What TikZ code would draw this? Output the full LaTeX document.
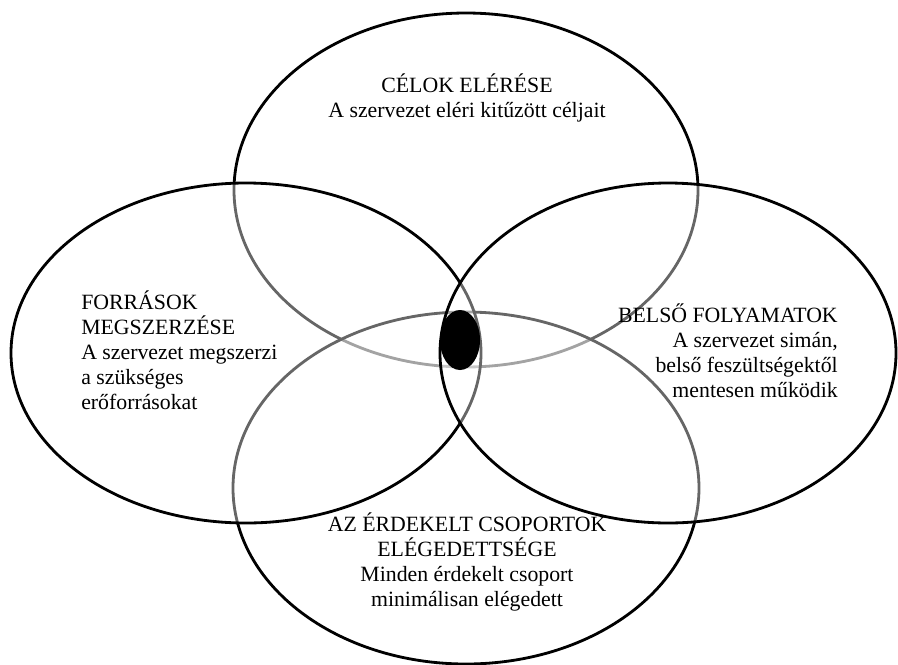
\documentclass[tikz,border=0pt]{standalone}
\usepackage{fontspec}
\setmainfont{Liberation Serif}
\usepackage{tikz}

\tikzset{
    ring/.style={draw=black, line width=2pt, fill=white, fill opacity=0.4},
    blob/.style={fill=black},
    label/.style={inner sep=0pt, font=\fontsize{15.5}{17.7}\selectfont}
}

\begin{document}
\begin{tikzpicture}[x=0.025cm, y=-0.025cm]
    \useasboundingbox (0,0) rectangle (898,664);

    \foreach \cx/\cy/\rx/\ry in {466/190/232/177, 466/488/233/176, 246/353/235/170, 668/353/228/170} {
        \draw[ring] (\cx,\cy) ellipse [x radius=\rx, y radius=\ry];
    }

    \fill[blob] (460,340) ellipse [x radius=20, y radius=30];

    \node[label, align=center] (celok) at (467,98) {CÉLOK ELÉRÉSE\\A szervezet eléri kitűzött céljait};
    \node[label, align=left, anchor=west] (forras) at (81,350) {FORRÁSOK\\MEGSZERZÉSE\\A szervezet megszerzi\\a szükséges\\erőforrásokat};
    \node[label, align=right, anchor=east] (belso) at (838,351) {BELSŐ FOLYAMATOK\\A szervezet simán,\\belső feszültségektől\\mentesen működik};
    \node[label, align=center] (erdek) at (467,562) {AZ ÉRDEKELT CSOPORTOK\\ELÉGEDETTSÉGE\\Minden érdekelt csoport\\minimálisan elégedett};
\end{tikzpicture}
\end{document}
